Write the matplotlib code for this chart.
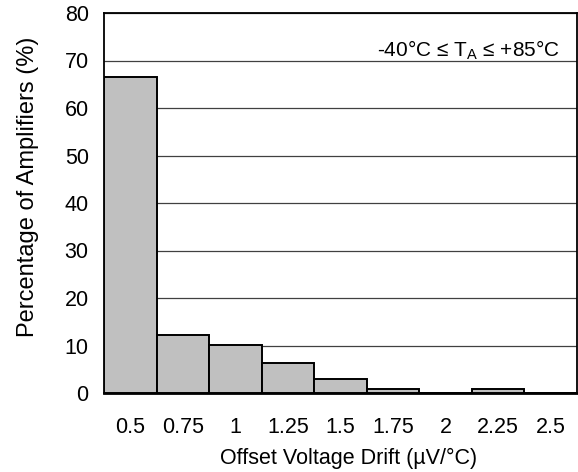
import matplotlib
matplotlib.use('Agg')
import matplotlib.pyplot as plt
import numpy as np

plt.rcParams['font.family'] = ['Liberation Sans', 'DejaVu Sans']
plt.rcParams['mathtext.fontset'] = 'custom'
plt.rcParams['mathtext.rm'] = 'Liberation Sans'
plt.rcParams['mathtext.it'] = 'Liberation Sans'

# data
drift_bins = ['0.5', '0.75', '1', '1.25', '1.5', '1.75', '2', '2.25', '2.5']
pct_amps = [66.5, 12.3, 10.2, 6.4, 3.0, 0.9, 0.0, 0.9, 0.0]
y_ticks = [0, 10, 20, 30, 40, 50, 60, 70, 80]

fig = plt.figure(figsize=(5.78, 4.72), dpi=100)
ax = fig.add_axes([104 / 578, 79 / 472, 473 / 578, 380 / 472])

x = np.arange(len(drift_bins))
ax.bar(x, pct_amps, width=1.0, color='#c0c0c0', edgecolor='black',
       linewidth=1.4, zorder=3)

ax.set_xlim(-0.5, len(drift_bins) - 0.5)
ax.set_ylim(0, 80)
ax.set_yticks(y_ticks)
ax.set_xticks(x)
ax.set_xticklabels(drift_bins)
ax.tick_params(axis='both', length=0, labelsize=15.5)
ax.tick_params(axis='y', pad=11)
ax.tick_params(axis='x', pad=17)

ax.yaxis.grid(True, color='#404040', linewidth=0.9, zorder=0)
for sp in ax.spines.values():
    sp.set_linewidth(1.3)
    sp.set_color('black')
ax.spines['bottom'].set_linewidth(2)

ax.set_xlabel('Offset Voltage Drift (µV/°C)', fontsize=15.5, va='top')
ax.xaxis.set_label_coords(0.518, -0.145)
ax.set_ylabel('Percentage of Amplifiers (%)', fontsize=17)
ax.yaxis.set_label_coords(-0.137, 0.542)

ax.text(0.964, 0.903, r'-40°C ≤ $\mathrm{T_A}$ ≤ +85°C', transform=ax.transAxes,
        ha='right', va='center', fontsize=15)

fig.savefig('out.png', dpi=100)
